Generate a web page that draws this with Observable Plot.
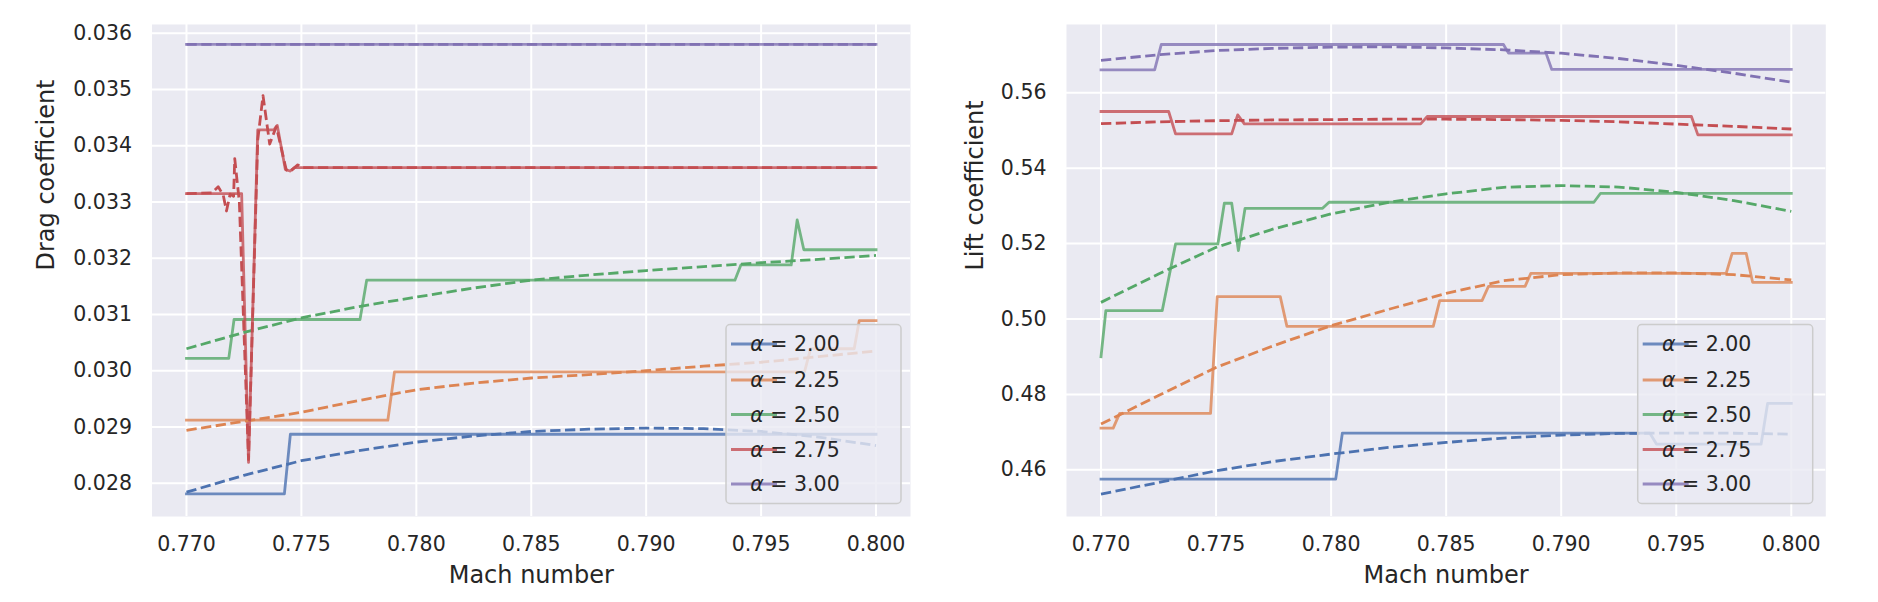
<!DOCTYPE html>
<html><head><meta charset="utf-8">
<script src="https://cdn.jsdelivr.net/npm/d3@7"></script>
<script src="https://cdn.jsdelivr.net/npm/@observablehq/plot@0.6"></script>
<style>
html,body{margin:0;padding:0;background:#fff;}
#wrap{display:flex;width:1878px;height:602px;overflow:hidden;}
#wrap svg{display:block;}
</style></head><body><div id="wrap"></div>
<script>
// ---- categories / ticks ----
const alphas = ["2.00", "2.25", "2.50", "2.75", "3.00"];
const palette = ["#4C72B0", "#DD8452", "#55A868", "#C44E52", "#8172B3"];
const machTicks = [0.770, 0.775, 0.780, 0.785, 0.790, 0.795, 0.800];
const dragTicks = [0.028, 0.029, 0.030, 0.031, 0.032, 0.033, 0.034, 0.035, 0.036];
const liftTicks = [0.46, 0.48, 0.50, 0.52, 0.54, 0.56];
const fitMach = [0.7700, 0.7725, 0.7750, 0.7775, 0.7800, 0.7825, 0.7850, 0.7875, 0.7900, 0.7925, 0.7950, 0.7975, 0.8000];

// ---- Drag coefficient: computed data (solid), [Mach, Cd] ----
const dragData200 = [[0.7700,0.02781],[0.77426,0.02781],[0.77452,0.02887],[0.8000,0.02887]];
const dragData225 = [[0.7700,0.02912],[0.77876,0.02912],[0.77905,0.02998],[0.79689,0.02998],[0.79715,0.03039],[0.79905,0.03039],[0.79927,0.03089],[0.8000,0.03089]];
const dragData250 = [[0.7700,0.03022],[0.77184,0.03022],[0.77207,0.03091],[0.77755,0.03091],[0.77784,0.03161],[0.79386,0.03161],[0.79412,0.03188],[0.79631,0.03188],[0.79657,0.03268],[0.79686,0.03215],[0.8000,0.03215]];
const dragData275 = [[0.7700,0.03315],[0.7724,0.03315],[0.7727,0.02837],[0.7731,0.03428],[0.7738,0.03428],[0.77395,0.03436],[0.7743,0.03358],[0.7745,0.03355],[0.7747,0.03361],[0.8000,0.03361]];
const dragData300 = [[0.7700,0.03580],[0.8000,0.03580]];

// ---- Drag coefficient: model (dashed) ----
const dragFit200 = [0.02784,0.02814,0.02840,0.02858,0.02873,0.02884,0.02892,0.02896,0.02898,0.02897,0.02892,0.02882,0.02867];
const dragFit225 = [0.02894,0.02910,0.02926,0.02947,0.02966,0.02978,0.02987,0.02993,0.03000,0.03008,0.03015,0.03025,0.03035];
const dragFit250 = [0.03039,0.03068,0.03094,0.03114,0.03131,0.03147,0.03161,0.03170,0.03178,0.03185,0.03192,0.03198,0.03205];
const dragFit275 = [[0.7700,0.03315],[0.7711,0.03316],[0.77138,0.03327],[0.7716,0.03312],[0.77174,0.03284],[0.7719,0.03314],[0.77205,0.03310],[0.7721,0.03377],[0.7723,0.03300],[0.7727,0.02842],[0.7731,0.03410],[0.77333,0.03489],[0.77362,0.03403],[0.77391,0.03434],[0.77434,0.03357],[0.7745,0.03354],[0.77484,0.03366],[0.7750,0.03361],[0.8000,0.03361]];
const dragFit300 = [[0.7700,0.03580],[0.8000,0.03580]];

// ---- Lift coefficient: computed data (solid) ----
const liftData200 = [[0.7700,0.45753],[0.7802,0.45753],[0.78049,0.46974],[0.79385,0.46974],[0.79414,0.46682],[0.79869,0.46682],[0.79897,0.47760],[0.8000,0.47760]];
const liftData225 = [[0.7700,0.47106],[0.77053,0.47106],[0.77081,0.47495],[0.77476,0.47495],[0.77505,0.50593],[0.77779,0.50593],[0.77808,0.49805],[0.78444,0.49805],[0.78472,0.50486],[0.78656,0.50486],[0.78684,0.50867],[0.78843,0.50867],[0.78868,0.51212],[0.79717,0.51212],[0.79743,0.51743],[0.79804,0.51743],[0.79832,0.50973],[0.8000,0.50973]];
const liftData250 = [[0.7700,0.49000],[0.77021,0.50221],[0.77266,0.50221],[0.77324,0.51991],[0.77508,0.51991],[0.77536,0.53070],[0.77568,0.53070],[0.77597,0.51814],[0.77626,0.52937],[0.77963,0.52937],[0.77991,0.53097],[0.79142,0.53097],[0.79171,0.53335],[0.8000,0.53335]];
const liftData275 = [[0.7700,0.55504],[0.77294,0.55504],[0.77324,0.54912],[0.77568,0.54912],[0.77594,0.55416],[0.77623,0.55177],[0.78389,0.55177],[0.78418,0.55371],[0.79566,0.55371],[0.79594,0.54885],[0.8000,0.54885]];
const liftData300 = [[0.7700,0.56610],[0.77233,0.56610],[0.77262,0.57282],[0.78749,0.57282],[0.78771,0.57052],[0.78934,0.57052],[0.78959,0.56619],[0.8000,0.56619]];

// ---- Lift coefficient: model (dashed) ----
const liftFit200 = [0.45355,0.45663,0.45973,0.46220,0.46417,0.46592,0.46725,0.46842,0.46921,0.46964,0.46975,0.46970,0.46945];
const liftFit225 = [0.47213,0.47970,0.48716,0.49292,0.49823,0.50256,0.50680,0.51017,0.51176,0.51222,0.51222,0.51176,0.51036];
const liftFit250 = [0.50441,0.51195,0.51901,0.52390,0.52788,0.53096,0.53319,0.53494,0.53539,0.53500,0.53361,0.53140,0.52857];
const liftFit275 = [0.5518,0.5523,0.5526,0.5528,0.5529,0.5530,0.5530,0.5529,0.5527,0.5523,0.5517,0.5511,0.5504];
const liftFit300 = [0.5686,0.5701,0.5712,0.5718,0.5721,0.5722,0.5719,0.5714,0.5705,0.5691,0.5673,0.5652,0.5628];

// ---- build rows ----
function toRows(seriesList) {
  const rows = [];
  seriesList.forEach((s, i) => {
    s.forEach((p, j) => {
      if (Array.isArray(p)) rows.push({alpha: alphas[i], mach: p[0], value: p[1]});
      else rows.push({alpha: alphas[i], mach: fitMach[j], value: p});
    });
  });
  return rows;
}

const TXT = "#262626";
function panel(cfg) {
  const solidRows = toRows(cfg.solid);
  const fitRows = toRows(cfg.fit);
  const chart = Plot.plot({
    width: 939, height: 602,
    marginLeft: cfg.ml, marginRight: cfg.mr, marginTop: 24, marginBottom: 86,
    style: {fontFamily: "DejaVu Sans", fontSize: "20.5px", color: TXT, background: "white", overflow: "visible"},
    x: {domain: [0.7685, 0.8015]},
    y: {domain: cfg.yDomain},
    color: {domain: alphas, range: palette},
    marks: [
      Plot.frame({fill: "#EAEAF2", stroke: "none"}),
      Plot.gridX({ticks: machTicks, stroke: "white", strokeOpacity: 1, strokeWidth: 2}),
      Plot.gridY({ticks: cfg.yTicks, stroke: "white", strokeOpacity: 1, strokeWidth: 2}),
      Plot.axisX({ticks: machTicks, tickFormat: d3.format(".3f"), tickSize: 0, tickPadding: 20, label: null, fill: TXT}),
      Plot.axisY({ticks: cfg.yTicks, tickFormat: d3.format(cfg.yFmt), tickSize: 0, tickPadding: 20, label: null, fill: TXT}),
      Plot.line(solidRows, {x: "mach", y: "value", z: "alpha", stroke: "alpha", strokeWidth: 2.8, strokeOpacity: 0.8, strokeLinejoin: "round", strokeLinecap: "square"}),
      Plot.line(fitRows, {x: "mach", y: "value", z: "alpha", stroke: "alpha", strokeWidth: 2.8, strokeDasharray: "10.3,4.5", strokeLinejoin: "round", strokeLinecap: "butt"}),
      Plot.text(["Mach number"], {frameAnchor: "bottom", dy: 66, lineAnchor: "bottom", fontSize: 24, fill: TXT}),
      Plot.text([cfg.yLabel], {frameAnchor: "left", rotate: -90, dx: cfg.labelDx, lineAnchor: "bottom", fontSize: 24, fill: TXT})
    ]
  });
  // legend (inside the axes, lower right)
  const color = chart.scale("color");
  const svg = d3.select(chart);
  const R = cfg.legendR, B = 503.5, W = 175, H = 179;
  const g = svg.append("g").attr("font-family", "DejaVu Sans").attr("font-size", 20.5);
  g.append("rect").attr("x", R - W).attr("y", B - H).attr("width", W).attr("height", H)
    .attr("rx", 4).attr("fill", "#EAEAF2").attr("fill-opacity", 0.8)
    .attr("stroke", "#CCCCCC").attr("stroke-width", 1.5);
  const rowY = [-159.5, -123.5, -89, -54, -19.5];
  alphas.forEach((a, i) => {
    const y = B + rowY[i];
    g.append("line").attr("x1", R - 170).attr("x2", R - 124).attr("y1", y).attr("y2", y)
      .attr("stroke", color.apply(a)).attr("stroke-opacity", 0.8).attr("stroke-width", 2.8);
    const t = g.append("text").attr("x", R - 106).attr("y", y).attr("dy", "0.35em").attr("fill", TXT);
    t.append("tspan").attr("font-style", "italic").text("α");
    t.append("tspan").text(" = " + a);
  });
  return chart;
}

const wrap = document.getElementById("wrap");
wrap.appendChild(panel({
  solid: [dragData200, dragData225, dragData250, dragData275, dragData300],
  fit: [dragFit200, dragFit225, dragFit250, dragFit275, dragFit300],
  yDomain: [0.027408, 0.036155], yTicks: dragTicks, yFmt: ".3f",
  yLabel: "Drag coefficient", ml: 151.5, mr: 29, labelDx: -98.5, legendR: 901
}));
wrap.appendChild(panel({
  solid: [liftData200, liftData225, liftData250, liftData275, liftData300],
  fit: [liftFit200, liftFit225, liftFit250, liftFit275, liftFit300],
  yDomain: [0.44761, 0.57812], yTicks: liftTicks, yFmt: ".2f",
  yLabel: "Lift coefficient", ml: 127, mr: 52.7, labelDx: -84, legendR: 873.7
}));
</script></body></html>
